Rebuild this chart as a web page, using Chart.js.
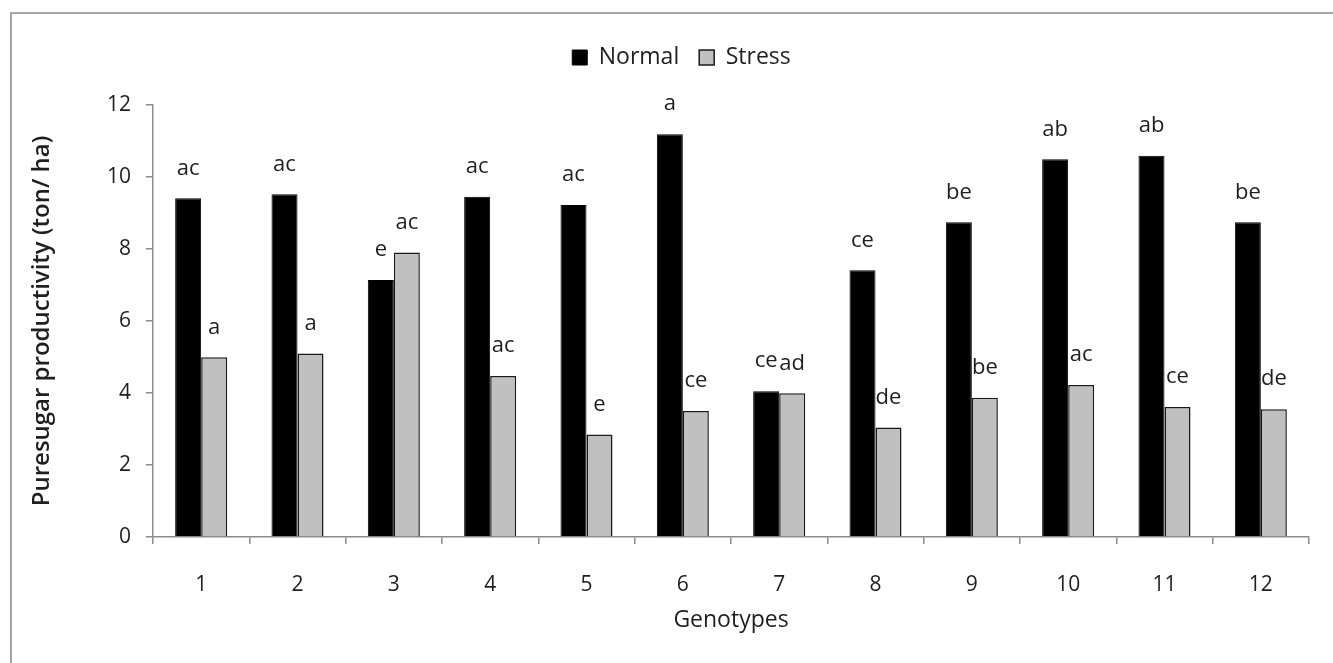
<!DOCTYPE html>
<html>
<head>
<meta charset="utf-8">
<script src="https://cdn.jsdelivr.net/npm/chart.js@4.4.1/dist/chart.umd.min.js"></script>
<style>
  body { margin: 0; background: #fff; }
  #wrap { position: relative; width: 1333px; height: 663px; overflow: hidden; }
  #frame { position: absolute; left: 10px; top: 12px; width: 1400px; height: 700px; border: 2px solid #a6a6a6; box-sizing: border-box; }
  canvas { position: absolute; left: 0; top: 0; }
</style>
</head>
<body>
<div id="wrap">
  <div id="frame"></div>
  <canvas id="chart" width="1333" height="663"></canvas>
</div>
<script>
// данные с рисунка
const genotypes = ['1', '2', '3', '4', '5', '6', '7', '8', '9', '10', '11', '12'];
const normal = [9.41, 9.52, 7.14, 9.45, 9.22, 11.19, 4.05, 7.41, 8.74, 10.49, 10.59, 8.74];
const stress = [4.99, 5.10, 7.90, 4.47, 2.85, 3.50, 3.99, 3.04, 3.87, 4.22, 3.61, 3.55];
const normalLetters = ['ac', 'ac', 'e', 'ac', 'ac', 'a', 'ce', 'ce', 'be', 'ab', 'ab', 'be'];
const stressLetters = ['a', 'a', 'ac', 'ac', 'e', 'ce', 'ad', 'de', 'be', 'ac', 'ce', 'de'];

const FONT = "'Open Sans', sans-serif";
const TEXT = '#1f1f1f';
const AXIS = '#8c8c8c';

// буквы над столбиками (рисуются до столбиков, как в оригинале)
const letterPlugin = {
    id: 'letters',
    beforeDatasetsDraw(chart) {
        const ctx = chart.ctx;
        const sets = [normalLetters, stressLetters];
        ctx.save();
        ctx.font = '22px ' + FONT;
        ctx.fillStyle = TEXT;
        ctx.textAlign = 'center';
        ctx.textBaseline = 'middle';
        sets.forEach((letters, i) => {
            chart.getDatasetMeta(i).data.forEach((bar, j) => {
                ctx.fillText(letters[j], bar.x, bar.y - 30);
            });
        });
        ctx.restore();
    }
};

// отступ под легендой и сдвиг легенды вправо
const legendGap = {
    id: 'legendGap',
    beforeInit(chart) {
        const fit = chart.legend.fit;
        chart.legend.fit = function () {
            fit.bind(chart.legend)();
            this.height += 26;
        };
    },
    afterLayout(chart) {
        chart.legend.left += 27;
        chart.legend.right += 27;
    }
};

const ctx = document.getElementById('chart').getContext('2d');
new Chart(ctx, {
    type: 'bar',
    data: {
        labels: genotypes,
        datasets: [
            {
                label: 'Normal',
                data: normal,
                backgroundColor: '#000000',
                borderColor: '#000000',
                borderWidth: 1
            },
            {
                label: 'Stress',
                data: stress,
                backgroundColor: '#c0c0c0',
                borderColor: '#1a1a1a',
                borderWidth: 1.5
            }
        ]
    },
    options: {
        responsive: false,
        animation: false,
        layout: { padding: { top: 26, right: 24, left: 0, bottom: 0 } },
        datasets: { bar: { categoryPercentage: 0.54, barPercentage: 1 } },
        plugins: {
            tooltip: { enabled: false },
            legend: {
                position: 'top',
                labels: {
                    font: { family: FONT, size: 23 },
                    color: TEXT,
                    boxWidth: 15,
                    boxHeight: 15,
                    padding: 20
                }
            }
        },
        scales: {
            x: {
                afterFit(scale) { scale.height = 126; },
                grid: { display: true, offset: true, drawOnChartArea: false, tickLength: 7, color: AXIS, lineWidth: 1.5 },
                border: { color: AXIS, width: 1.5 },
                ticks: { font: { family: FONT, size: 21 }, color: TEXT, padding: 28 },
                title: {
                    display: true,
                    text: 'Genotypes',
                    font: { family: FONT, size: 23 },
                    color: TEXT,
                    padding: { top: 0, bottom: 29 }
                }
            },
            y: {
                min: 0,
                max: 12,
                afterFit(scale) { scale.width = 153; },
                grid: { display: true, drawOnChartArea: false, tickLength: 7, color: AXIS, lineWidth: 1.5 },
                border: { color: AXIS, width: 1.5 },
                ticks: { stepSize: 2, font: { family: FONT, size: 21 }, color: TEXT, padding: 15 },
                title: {
                    display: true,
                    text: 'Puresugar productivity (ton/ ha)',
                    font: { family: FONT, size: 24, weight: '600' },
                    color: TEXT,
                    padding: { top: 28, bottom: 0 }
                }
            }
        }
    },
    plugins: [letterPlugin, legendGap]
});
</script>
</body>
</html>
